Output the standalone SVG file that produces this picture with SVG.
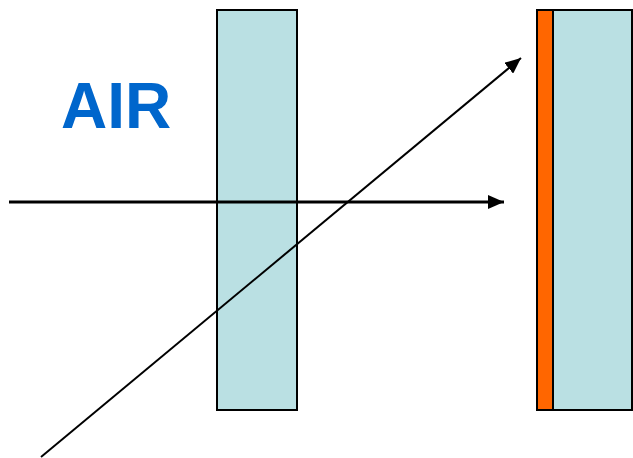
<svg xmlns="http://www.w3.org/2000/svg" width="633" height="458" viewBox="0 0 633 458">
<style>
.slab{fill:#BAE0E3;stroke:#000;stroke-width:2}
.film{fill:#FF6600;stroke:#000;stroke-width:2}
.ray{stroke:#000;fill:none}
.label{font-family:"Liberation Sans",Arial,sans-serif;font-weight:bold;font-size:64px;fill:#0066CC}
</style>
<defs>
<marker id="ah" viewBox="0 0 16 14" refX="16" refY="7" markerWidth="16" markerHeight="14" markerUnits="userSpaceOnUse" orient="auto">
<path d="M0,0 L16,7 L0,14 z" fill="#000"/>
</marker>
</defs>
<g id="slab1"><rect class="slab" x="217" y="10" width="80" height="400"/></g>
<g id="slab2">
<rect class="slab" x="553" y="10" width="79" height="400"/>
<rect class="film" x="537" y="10" width="16" height="400"/>
</g>
<g id="air"><text class="label" x="61" y="128">AIR</text></g>
<g id="connectors">
<line class="ray" x1="9" y1="202" x2="504" y2="202" stroke-width="3" marker-end="url(#ah)"/>
<line class="ray" x1="41" y1="457" x2="521" y2="58" stroke-width="2" marker-end="url(#ah)"/>
</g>
</svg>
